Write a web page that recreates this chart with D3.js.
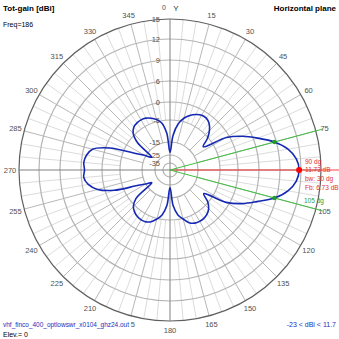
<!DOCTYPE html>
<html><head><meta charset="utf-8">
<script src="https://cdn.jsdelivr.net/npm/d3@7"></script>
<style>
html,body{margin:0;padding:0;background:#fff;}
svg{display:block;font-family:"Liberation Sans","DejaVu Sans",sans-serif;}
</style></head>
<body><svg id="c" width="339" height="339"></svg>
<script>
// ---- data ----
const azimuths = [0,5,10,15,20,25,30,35,40,45,50,55,60,65,70,75,80,85,90,95,100,105,110,115,120,125,130,135,140,145,150,155,160,165,170,175,180,185,190,195,200,205,210,215,220,225,230,235,240,245,250,255,260,265,270,275,280,285,290,295,300,305,310,315,320,325,330,335,340,345,350,355];
const gains = [-23,-12,-6.5,-4.0,-2.8,-1.9,-1.3,-1.3,-2.0,-3.4,-5.6,-9.3,-0.8,3.4,6.6,8.73,10.4,11.4,11.73,11.4,10.4,8.73,6.5,3.3,-0.9,-9.0,-5.4,-3.7,-2.9,-2.5,-2.4,-2.6,-3.3,-4.8,-7.0,-11.5,-23,-11.5,-7.0,-4.8,-3.6,-3.0,-2.9,-3.1,-3.6,-4.5,-7.5,-19.5,-15,-10.7,-2.4,2.0,4.3,5.3,5.0,5.3,4.8,3.5,-1.0,-9.5,-14.3,-19.5,-8.5,-4.4,-3.3,-2.9,-2.8,-3.0,-3.6,-4.4,-6.0,-11.0];
const ringLevels = [15,12,9,6,0,-5,-15,-25,-35];
const ringRadii  = [151,131,110,89,68,50,28,15,7];
const ringLabels = ["15","12","9","6","0","-5","-15","-25","-35"];
const angleLabels = [15,30,45,60,75,105,120,135,150,165,180,195,210,225,240,255,270,285,300,315,330,345];
const maxAz = 90, maxGain = 11.73;
const bwAngles = [75,105], bwGain = 8.73;
const annot = ["90 dg","11.73 dB","bw: 30 dg","Fb: 6.73 dB"];
const title = "Tot-gain [dBi]", freqText = "Freq=186", planeText = "Horizontal plane";
const fileText = "vhf_finco_400_optlowswr_x0104_ghz24.out", elevText = "Elev.= 0", rangeText = "-23 < dBi < 11.7";

// ---- drawing ----
const svg = d3.select("#c");
const cx = 170, cy = 170;
const r = d3.scaleLinear().domain(ringLevels.slice().reverse()).range(ringRadii.slice().reverse()).clamp(true);
const outerR = r(15);
const rad = d => d*Math.PI/180;
const px = (a, rr) => cx + rr*Math.sin(rad(a));
const py = (a, rr) => cy - rr*Math.cos(rad(a));
const g = svg.append("g");

// fine radial lines every 5 deg
const fine = d3.range(0,360,5).filter(a => a%15 !== 0);
g.selectAll("line.fine").data(fine).join("line")
  .attr("x1", a=>px(a,r(-5))).attr("y1", a=>py(a,r(-5)))
  .attr("x2", a=>px(a,outerR)).attr("y2", a=>py(a,outerR))
  .attr("stroke","#dcdcdc").attr("stroke-width",1);
const major = d3.range(0,360,15).filter(a => a%90 !== 0);
g.selectAll("line.major").data(major).join("line")
  .attr("x1", a=>px(a,r(-15))).attr("y1", a=>py(a,r(-15)))
  .attr("x2", a=>px(a,outerR)).attr("y2", a=>py(a,outerR))
  .attr("stroke","#b8b8b8").attr("stroke-width",1);

// rings
g.selectAll("circle.ring").data(ringLevels).join("circle")
  .attr("cx",cx).attr("cy",cy).attr("r",d=>r(d)).attr("fill","none")
  .attr("stroke", d=> d===15 ? "#606060" : "#b4b4b4").attr("stroke-width",1.2);

// axes
[0,90,180,270].forEach(a=>{
  g.append("line").attr("x1",cx).attr("y1",cy).attr("x2",px(a,outerR)).attr("y2",py(a,outerR))
   .attr("stroke","#808080").attr("stroke-width",1);
});

// ring labels
g.selectAll("text.rl").data(ringLevels).join("text")
  .attr("x",160).attr("y",d=>cy-r(d)).attr("dy","0.35em").attr("text-anchor","end")
  .attr("font-size",7.5).attr("fill","#505050").text((d,i)=>ringLabels[i]);

// angle labels
g.selectAll("text.al").data(angleLabels).join("text")
  .attr("x",a=>px(a,160)).attr("y",a=>py(a,160)).attr("dy","0.35em").attr("text-anchor","middle")
  .attr("font-size",7.5).attr("fill","#505050").text(a=>a);
g.append("text").attr("x",164).attr("y",10).attr("text-anchor","middle").attr("font-size",7).attr("fill","#505050").text("0");
g.append("text").attr("x",176).attr("y",11).attr("text-anchor","middle").attr("font-size",8).attr("fill","#303030").text("Y");

// red max line & green bw lines
g.append("line").attr("x1",cx).attr("y1",cy).attr("x2",339).attr("y2",py(maxAz,200))
  .attr("stroke","#ff4040").attr("stroke-width",1);
g.selectAll("line.bw").data(bwAngles).join("line")
  .attr("x1",cx).attr("y1",cy).attr("x2",a=>px(a,158)).attr("y2",a=>py(a,158))
  .attr("stroke","#40c040").attr("stroke-width",1);

// pattern
const line = d3.lineRadial().angle(d=>rad(d[0])).radius(d=>r(d[1])).curve(d3.curveCatmullRomClosed.alpha(0.5));
g.append("path").attr("transform",`translate(${cx},${cy})`)
  .datum(azimuths.map((a,i)=>[a,gains[i]]))
  .attr("d",line).attr("fill","none").attr("stroke","#1428b4").attr("stroke-width",1.6);

// markers
g.append("circle").attr("cx",px(maxAz,r(maxGain))).attr("cy",py(maxAz,r(maxGain))).attr("r",3).attr("fill","#ff0000");
g.selectAll("circle.bwp").data(bwAngles).join("circle")
  .attr("cx",a=>px(a,r(bwGain))).attr("cy",a=>py(a,r(bwGain))).attr("r",2.2).attr("fill","#20a020");

// annotations
g.selectAll("text.an").data(annot).join("text")
  .attr("x",305).attr("y",(d,i)=>163.5+i*8.7).attr("font-size",6.5).attr("fill","#e03030").text(d=>d);
g.append("text").attr("x",304).attr("y",203).attr("font-size",6.5).attr("fill","#30a030").text(bwAngles[1]+" dg");

// header / footer
g.append("text").attr("x",3).attr("y",11).attr("font-size",8).attr("font-weight","bold").attr("fill","#000").text(title);
g.append("text").attr("x",3).attr("y",27).attr("font-size",7).attr("fill","#000").text(freqText);
g.append("text").attr("x",336).attr("y",11).attr("text-anchor","end").attr("font-size",8).attr("font-weight","bold").attr("fill","#000").text(planeText);
g.append("rect").attr("x",2).attr("y",319).attr("width",128.8).attr("height",10).attr("fill","#fff");
g.append("text").attr("x",3).attr("y",327).attr("font-size",7).attr("fill","#2030c0").attr("textLength",126).attr("lengthAdjust","spacingAndGlyphs").text(fileText);
g.append("text").attr("x",3).attr("y",337).attr("font-size",7).attr("fill","#000").text(elevText);
g.append("text").attr("x",336).attr("y",327).attr("text-anchor","end").attr("font-size",7).attr("fill","#2030c0").text(rangeText);
</script></body></html>
